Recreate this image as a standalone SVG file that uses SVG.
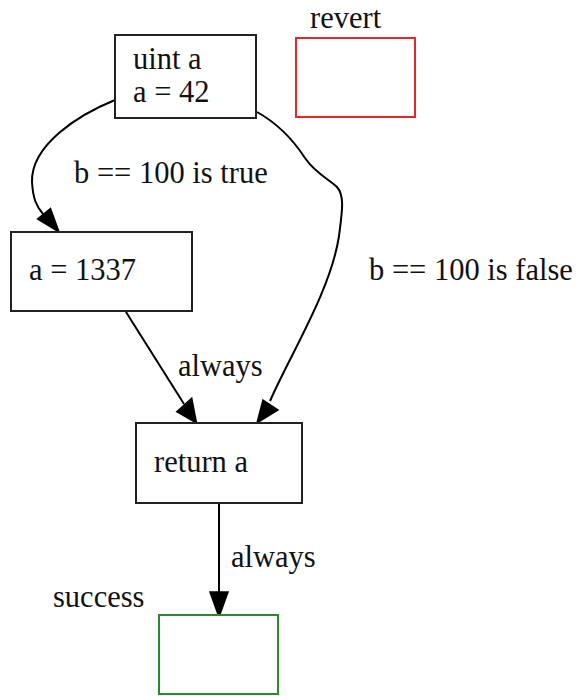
<svg xmlns="http://www.w3.org/2000/svg" width="576" height="696" viewBox="0 0 576 696">
<defs>
<style>
.n{fill:#fff;stroke:#222;stroke-width:2}
.t{font-family:"Liberation Serif","Times New Roman",serif;font-size:30.5px;fill:#111}
.e{fill:none;stroke:#000;stroke-width:2}
.h{fill:#000;stroke:#000;stroke-width:1.5}
</style>
</defs>
<rect width="576" height="696" fill="#fff"/>
<g id="connectors">
<path class="e" d="M115,100 C78,115 31,145 32,182 C33,198 36,206 43,214"/>
<polygon class="h" points="37.5,219 50.5,208.5 59,232"/>
<path class="e" d="M257,112 C275,122 292,138 305,158 C315,173 330,180 337,187 C345,196 342,212 339,236 C331,290 290,355 270,401"/>
<polygon class="h" points="263,400 278,410 257,423"/>
<path class="e" d="M126,312 L184,404"/>
<polygon class="h" points="176.7,411.7 191.7,398.3 196.5,423"/>
<path class="e" d="M219,503 L219,592"/>
<polygon class="h" points="210,592 228,592 219,617"/>
<text class="t" x="74" y="183">b == 100 is true</text>
<text class="t" x="369" y="280">b == 100 is false</text>
<text class="t" x="178" y="376">always</text>
<text class="t" x="231" y="567">always</text>
</g>
<g id="node-entry">
<rect class="n" x="115" y="35" width="141" height="83"/>
<text class="t" x="133" y="69">uint a</text>
<text class="t" x="133" y="102">a = 42</text>
</g>
<g id="node-revert">
<rect x="296" y="38" width="119" height="79" fill="#fff" stroke="#e8262a" stroke-width="2"/>
<text class="t" x="310" y="28">revert</text>
</g>
<g id="node-true">
<rect class="n" x="11" y="232" width="181" height="79"/>
<text class="t" x="29" y="280">a = 1337</text>
</g>
<g id="node-return">
<rect class="n" x="136" y="423" width="166" height="80"/>
<text class="t" x="154" y="472">return a</text>
</g>
<g id="node-success">
<rect x="159" y="615" width="119" height="79" fill="#fff" stroke="#2a8a2a" stroke-width="2"/>
<text class="t" x="53" y="607">success</text>
</g>
</svg>
